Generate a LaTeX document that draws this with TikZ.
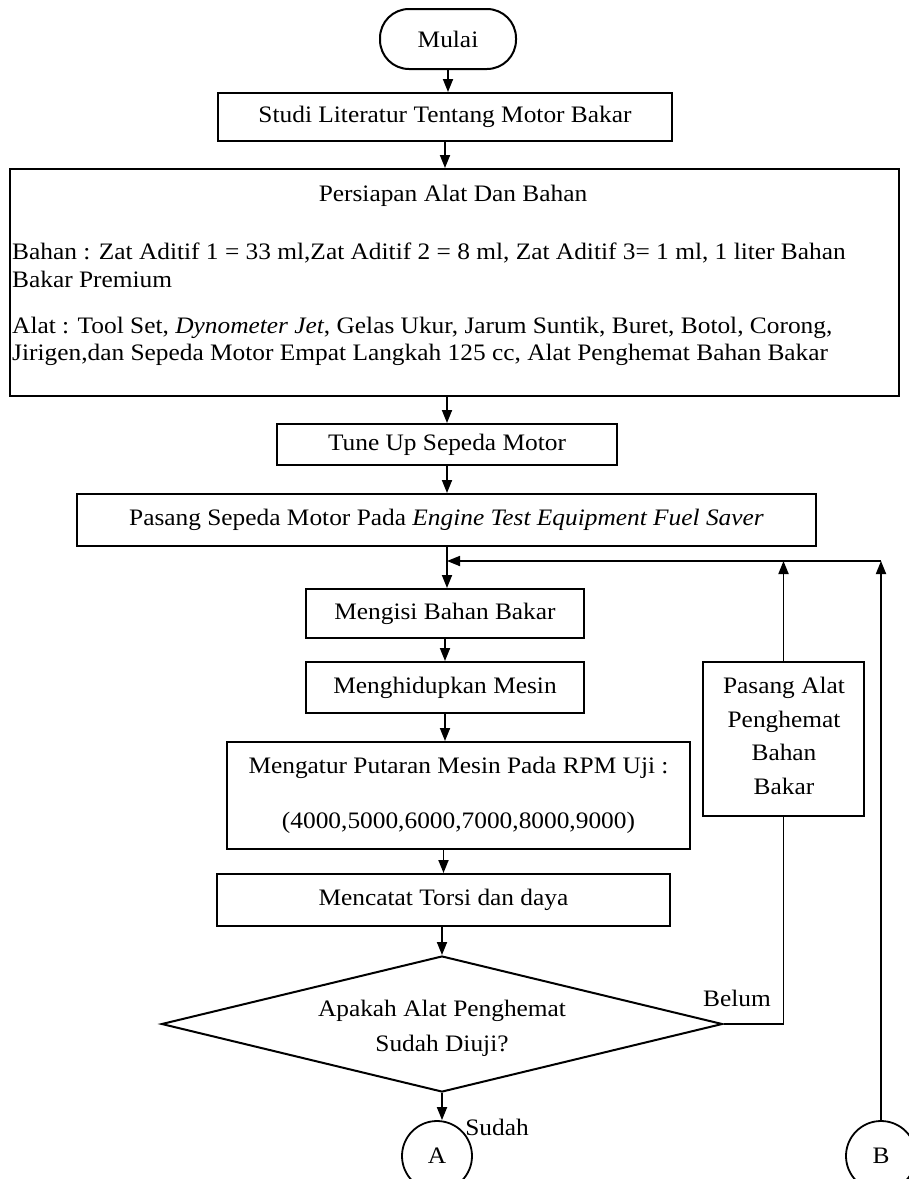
\documentclass[tikz,border=0pt]{standalone}
\usepackage{fontspec}
\setmainfont[FakeStretch=1.075]{Liberation Serif}
\usetikzlibrary{arrows.meta,shapes.geometric}
\begin{document}
\begin{tikzpicture}[x=1pt,y=-1pt,
  txt/.style={font=\fontsize{23.6}{28}\selectfont, inner sep=0pt},
  box/.style={draw, line width=2pt, inner sep=0pt, align=center, font=\fontsize{23.6}{28}\selectfont},
  term/.style={box, rounded corners=29pt},
  conn/.style={draw, circle, line width=1.8pt, minimum size=70pt, inner sep=0pt, font=\fontsize{23.6}{28}\selectfont},
  arr/.style={line width=1.8pt, -{Triangle[length=13pt,width=10pt]}},
  ln/.style={line width=1.8pt}]
\useasboundingbox (0,0) rectangle (909,1179);
\fill[white] (0,0) rectangle (909,1179);

\node[term, minimum width=136pt, minimum height=60pt] (mulai) at (448,39) {Mulai};
\node[box, minimum width=454pt, minimum height=48pt] (studi) at (445,117) {Studi Literatur Tentang Motor Bakar};
\node[box, minimum width=889pt, minimum height=227pt] (prep) at (454,282.5) {};
\node[txt, anchor=base] (preptitle) at (453,201) {Persiapan Alat Dan Bahan};
\node[txt, anchor=base west] (bahan1) at (12,259) {Bahan : Zat Aditif 1 = 33 ml,Zat Aditif 2 = 8 ml, Zat Aditif 3= 1 ml, 1 liter Bahan};
\node[txt, anchor=base west] (bahan2) at (12,287) {Bakar Premium};
\node[txt, anchor=base west] (alat1) at (12,333) {Alat : Tool Set, \textit{Dynometer Jet}, Gelas Ukur, Jarum Suntik, Buret, Botol, Corong,};
\node[txt, anchor=base west] (alat2) at (12,360) {Jirigen,dan Sepeda Motor Empat Langkah 125 cc, Alat Penghemat Bahan Bakar};

\node[box, minimum width=340pt, minimum height=41pt] (tune) at (447,444.5) {Tune Up Sepeda Motor};
\node[box, minimum width=739pt, minimum height=52pt] (pasang) at (446.5,520) {Pasang Sepeda Motor Pada \textit{Engine Test Equipment Fuel Saver}};
\node[box, minimum width=278pt, minimum height=49pt] (mengisi) at (445,613.5) {Mengisi Bahan Bakar};
\node[box, minimum width=278pt, minimum height=51pt] (hidup) at (445,687.5) {Menghidupkan Mesin};
\node[box, minimum width=463pt, minimum height=107pt] (atur) at (458.5,795.5) {Mengatur Putaran Mesin Pada RPM Uji :\\[27pt](4000,5000,6000,7000,8000,9000)};
\node[box, minimum width=453pt, minimum height=52pt] (catat) at (443.5,900) {Mencatat Torsi dan daya};
\node[box, diamond, aspect=4.1, minimum width=561pt, minimum height=136pt] (dia) at (442,1024) {};
\node[txt, align=center] (diatext) at (442,1028) {Apakah Alat Penghemat\\[7pt]Sudah Diuji?};
\node[box, minimum width=161pt, minimum height=154pt] (alat) at (783.5,739) {};
\node[txt, align=center, font=\fontsize{23.6}{33.5}\selectfont] (alattext) at (784,736) {Pasang Alat\\Penghemat\\Bahan\\Bakar};
\node[conn] (A) at (437,1156) {A};
\node[conn] (B) at (881,1156) {B};
\node[txt] (belum) at (737,998) {Belum};
\node[txt] (sudah) at (497,1127) {Sudah};

\coordinate (j) at (447,561);
\coordinate (bt) at (B.north |- j);

\draw[arr] (mulai.south) -- (mulai.south |- studi.north);
\draw[arr] (studi.south) -- (studi.south |- prep.north);
\draw[arr] (tune.north |- prep.south) -- (tune.north);
\draw[arr] (tune.south) -- (tune.south |- pasang.north);
\draw[arr] (pasang.south -| j) -- (j |- mengisi.north);
\draw[arr] (mengisi.south) -- (mengisi.south |- hidup.north);
\draw[arr] (hidup.south) -- (hidup.south |- atur.north);
\draw[arr] (catat.north |- atur.south) -- (catat.north);
\draw[arr] (dia.north |- catat.south) -- (dia.north);
\draw[arr] (dia.south) -- (dia.south |- A.north);
\draw[ln] (dia.east) -| (alat.south);
\draw[arr] (alat.north) -- (alat.north |- j);
\draw[arr] (B.north) -- (bt);
\draw[arr] (bt) -- (j);
\end{tikzpicture}
\end{document}
